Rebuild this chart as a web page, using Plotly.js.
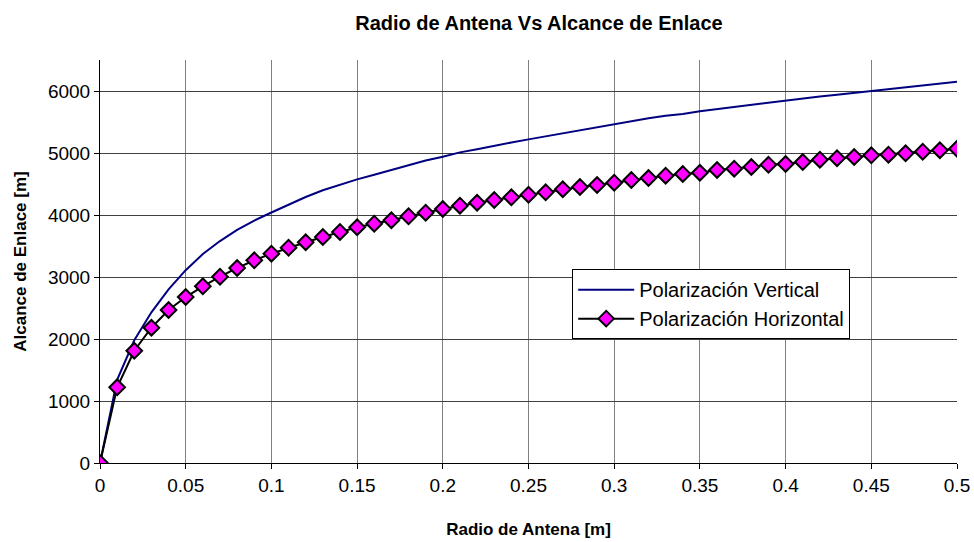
<!DOCTYPE html>
<html>
<head>
<meta charset="utf-8">
<script src="https://cdn.plot.ly/plotly-3.0.1.min.js"></script>
<style>html,body{margin:0;padding:0;background:#fff}#chart{width:974px;height:542px}</style>
</head>
<body>
<div id="chart"></div>
<script>
const radio = [0,0.01,0.02,0.03,0.04,0.05,0.06,0.07,0.08,0.09,0.10,0.11,0.12,0.13,0.14,0.15,0.16,0.17,0.18,0.19,0.20,0.21,0.22,0.23,0.24,0.25,0.26,0.27,0.28,0.29,0.30,0.31,0.32,0.33,0.34,0.35,0.36,0.37,0.38,0.39,0.40,0.41,0.42,0.43,0.44,0.45,0.46,0.47,0.48,0.49,0.50];
const polVertical = [0,1340,1980,2430,2800,3110,3370,3580,3760,3910,4040,4170,4290,4400,4490,4575,4650,4730,4810,4880,4940,5010,5060,5120,5170,5220,5270,5320,5370,5420,5470,5510,5560,5600,5630,5675,5710,5745,5780,5815,5850,5880,5910,5940,5970,6005,6040,6065,6090,6120,6150];
const polHorizontal = [0,1221,1811,2182,2468,2677,2850,3005,3145,3269,3376,3473,3560,3645,3726,3802,3860,3915,3979,4037,4097,4150,4198,4242,4285,4327,4366,4415,4452,4484,4521,4565,4597,4634,4661,4682,4726,4747,4774,4811,4823,4855,4892,4915,4935,4963,4973,4995,5021,5044,5069];
const xTicks = [0,0.05,0.1,0.15,0.2,0.25,0.3,0.35,0.4,0.45,0.5];
const xTickText = ['0','0.05','0.1','0.15','0.2','0.25','0.3','0.35','0.4','0.45','0.5'];
const yTicks = [0,1000,2000,3000,4000,5000,6000];

const font = 'Liberation Sans, Arial, sans-serif';
const traces = [
  {x: radio, y: polVertical, type: 'scatter', mode: 'lines', name: 'Polarización Vertical',
   line: {color: '#000080', width: 2}},
  {x: radio, y: polHorizontal, type: 'scatter', mode: 'lines+markers', name: 'Polarización Horizontal',
   line: {color: '#000000', width: 2},
   marker: {symbol: 'diamond', size: 12, color: '#FF00FF', line: {color: '#000000', width: 2}}}
];
const layout = {
  width: 974, height: 542,
  margin: {l: 100, r: 17, t: 60, b: 79},
  paper_bgcolor: '#ffffff', plot_bgcolor: '#ffffff',
  font: {family: font, color: '#000', size: 19},
  title: {text: '<b>Radio de Antena Vs Alcance de Enlace</b>', font: {family: font, size: 20, color: '#000'},
          x: 0.5122, xanchor: 'center', xref: 'paper', y: 0.957, yanchor: 'middle', yref: 'container'},
  showlegend: true,
  legend: {x: 0.551, y: 0.481, xanchor: 'left', yanchor: 'top', bgcolor: '#fff',
           bordercolor: '#000', borderwidth: 1, font: {family: font, size: 20, color: '#000'},
           itemwidth: 56},
  xaxis: {range: [0, 0.5], tickvals: xTicks, ticktext: xTickText, showgrid: true, gridcolor: '#808080', gridwidth: 1,
          showline: true, linecolor: '#000', linewidth: 1, ticks: 'outside', ticklen: 5, tickcolor: '#000',
          zeroline: false, tickfont: {family: font, size: 19}, fixedrange: true,
          title: {text: '<b>Radio de Antena [m]</b>', font: {family: font, size: 17}, standoff: 28}},
  yaxis: {range: [0, 6500], tickvals: yTicks, showgrid: true, gridcolor: '#404040', gridwidth: 1,
          showline: true, linecolor: '#000', linewidth: 1, ticks: 'outside', ticklen: 5, tickcolor: '#000',
          zeroline: false, tickfont: {family: font, size: 19}, fixedrange: true,
          title: {text: '<b>Alcance de Enlace [m]</b>', font: {family: font, size: 17}, standoff: 16}}
};
Plotly.newPlot('chart', traces, layout, {staticPlot: true, displayModeBar: false});
</script>
</body>
</html>
